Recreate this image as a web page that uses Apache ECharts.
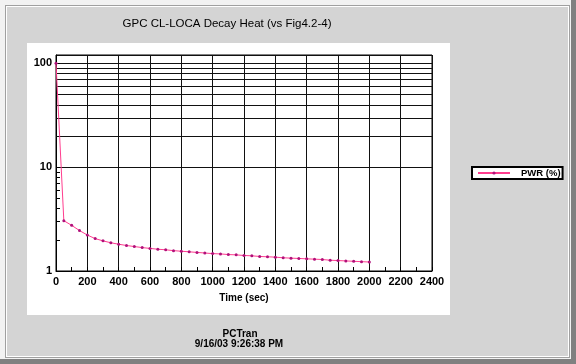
<!DOCTYPE html>
<html>
<head>
<meta charset="utf-8">
<script src="https://cdn.jsdelivr.net/npm/echarts@6/dist/echarts.min.js"></script>
<style>
html,body{margin:0;padding:0;background:#d4d4d4;}
#c{width:576px;height:364px;}
</style>
</head>
<body>
<div id="c"></div>
<script>
// ---- data ----
var timeSec = [0,50,100,150,200,250,300,350,400,450,500,550,600,650,700,750,800,850,900,950,1000,
  1050,1100,1150,1200,1250,1300,1350,1400,1450,1500,1550,1600,1650,1700,1750,1800,1850,1900,1950,2000];
var pwrPct = [100,3.05,2.75,2.45,2.22,2.05,1.95,1.87,1.81,1.76,1.72,1.68,1.65,1.62,1.60,1.57,1.55,1.53,1.51,1.49,1.47,
  1.46,1.44,1.43,1.41,1.40,1.38,1.37,1.36,1.34,1.33,1.32,1.31,1.30,1.29,1.27,1.26,1.25,1.24,1.23,1.22];
var yGridValues = [20,30,40,50,60,70,80,90];
var yMinorTickValues = [2,3,4,5,6,7,8,9];
var xTicks = [0,200,400,600,800,1000,1200,1400,1600,1800,2000,2200,2400];
var titleText = 'GPC CL-LOCA Decay Heat (vs Fig4.2-4)';
var footerLines = ['PCTran', '9/16/03 9:26:38 PM'];
var seriesName = 'PWR (%)';
var xName = 'Time (sec)';

var chart = echarts.init(document.getElementById('c'), null, {renderer:'canvas'});
var FONT = '"Liberation Sans", Arial, sans-serif';

var pairs = timeSec.map(function(t,i){ return [t, pwrPct[i]]; });

var option = {
  animation: false,
  backgroundColor: '#d4d4d4',
  graphic: [
    {type:'rect', z:-10, shape:{x:0,y:0,width:576,height:364}, style:{fill:'#808080'}},
    {type:'rect', z:-10, shape:{x:0,y:0,width:571,height:359}, style:{fill:'#f2f2f2'}},
    {type:'rect', z:-10, shape:{x:5,y:5,width:565,height:353}, style:{fill:'#a0a0a0'}},
    {type:'rect', z:-10, shape:{x:6,y:6,width:563,height:351}, style:{fill:'#ffffff'}},
    {type:'rect', z:-10, shape:{x:7,y:7,width:561,height:349}, style:{fill:'#d4d4d4'}},
    {type:'rect', z:-10, shape:{x:27,y:43,width:423,height:272}, style:{fill:'#ffffff'}},
    {type:'text', x:227, y:24, style:{text:titleText, fill:'#000', font:'11.5px ' + FONT, textAlign:'center', textVerticalAlign:'middle'}},
    {type:'text', x:240, y:334, style:{text:footerLines[0], fill:'#000', font:'bold 10px ' + FONT, textAlign:'center', textVerticalAlign:'middle'}},
    {type:'text', x:239, y:344, style:{text:footerLines[1], fill:'#000', font:'bold 10px ' + FONT, textAlign:'center', textVerticalAlign:'middle'}}
  ],
  legend: {
    data: [seriesName],
    left: 472, top: 167,
    orient: 'vertical',
    backgroundColor: '#fff',
    borderColor: '#000',
    borderWidth: 2,
    borderRadius: 0,
    padding: [1, 2, 1, 5],
    itemWidth: 32, itemHeight: 4, itemGap: 0,
    textStyle: {fontFamily: FONT, fontSize: 9.5, fontWeight: 'bold', color:'#000', padding:[0,0,0,6]}
  },
  grid: {
    left: 56, top: 55, width: 376, height: 216,
    show: true, borderColor: '#000', borderWidth: 1, backgroundColor: 'transparent'
  },
  xAxis: {
    type: 'value', min: 0, max: 2400, interval: 200,
    name: xName, nameLocation: 'middle', nameGap: 22,
    nameTextStyle: {fontFamily: FONT, fontSize: 10, fontWeight: 'bold', color:'#000'},
    axisLine: {show: true, lineStyle: {color:'#000', width:1}},
    axisTick: {show: true, inside: true, length: 4, lineStyle:{color:'#000'}},
    minorTick: {show: true, splitNumber: 2, length: 4, lineStyle:{color:'#000'}},
    axisLabel: {fontFamily: FONT, fontSize: 11, fontWeight: 'bold', color:'#000', margin: 5,
      formatter: function(v){ return String(v); }},
    splitLine: {show: true, lineStyle: {color:'#111', width:1}}
  },
  yAxis: {
    type: 'log', logBase: 10, min: 1, max: 120,
    axisLine: {show: true, lineStyle: {color:'#000', width:1}},
    axisTick: {show: true, inside: true, length: 4, lineStyle:{color:'#000'}},
    axisLabel: {fontFamily: FONT, fontSize: 11, fontWeight: 'bold', color:'#000', margin: 4,
      showMaxLabel: false,
      formatter: function(v){ return (v===1||v===10||v===100) ? String(v) : ''; }},
    splitLine: {show: true, lineStyle: {color:'#111', width:1}}
  },
  series: [
    {
      type: 'custom', silent: true, z: 1,
      data: yGridValues.map(function(v){ return [0, v]; }),
      renderItem: function(params, api){
        var v = api.value(1);
        var a = api.coord([0, v]), b = api.coord([2400, v]);
        return {type:'line', shape:{x1:a[0], y1:Math.round(a[1])+0.5, x2:b[0], y2:Math.round(b[1])+0.5},
          style:{stroke:'#111', lineWidth:1}};
      }
    },
    {
      type: 'custom', silent: true, z: 1,
      data: yMinorTickValues.map(function(v){ return [0, v]; }),
      renderItem: function(params, api){
        var v = api.value(1);
        var a = api.coord([0, v]);
        return {type:'line', shape:{x1:a[0], y1:Math.round(a[1])+0.5, x2:a[0]+4, y2:Math.round(a[1])+0.5},
          style:{stroke:'#000', lineWidth:1}};
      }
    },
    {
      name: seriesName, type: 'line', z: 5,
      data: pairs,
      symbol: 'circle', symbolSize: 3, showSymbol: true,
      lineStyle: {color:'#ff3d8e', width: 1},
      itemStyle: {color:'#b0107a'}
    }
  ]
};
chart.setOption(option);
</script>
</body>
</html>
